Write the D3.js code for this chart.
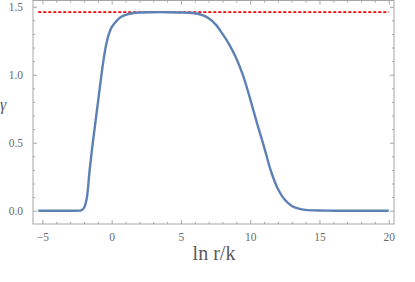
<!DOCTYPE html>
<html>
<head>
<meta charset="utf-8">
<script src="https://cdn.jsdelivr.net/npm/d3@7"></script>
<style>
  body { margin: 0; background: #fff; }
</style>
</head>
<body>
<div id="chart"></div>
<script>
// values
var lnrk = [-5.3, -3, -2.4, -2.2, -2.0, -1.8, -1.6, -1.4, -1.2, -1.0, -0.8, -0.6, -0.4, -0.2, 0,
            0.3, 0.6, 1.0, 1.5, 2, 3, 4, 5, 6, 6.5, 7, 7.5, 8, 8.5, 9, 9.5, 10, 10.5,
            11, 11.5, 12, 12.5, 13, 13.5, 14, 15, 16, 20];
var gamma = [0, 0, 0, 0.002, 0.02, 0.09, 0.29, 0.47, 0.63, 0.79, 0.95, 1.1, 1.22, 1.3, 1.35,
             1.39, 1.42, 1.44, 1.452, 1.458, 1.46, 1.46, 1.458, 1.452, 1.44, 1.415, 1.37, 1.3, 1.22, 1.12, 0.99, 0.82, 0.64,
             0.47, 0.29, 0.16, 0.08, 0.035, 0.015, 0.006, 0.001, 0, 0];
var refLevel = 1.46;
var refRange = [-5.3, 20];
var xMajor = [-5, 0, 5, 10, 15, 20];
var yMajor = [0, 0.5, 1.0, 1.5];

var W = 415, H = 282;
var margin = { top: 0.5, left: 33, right: 21, bottom: 58 };
var width = W - margin.left - margin.right,
    height = H - margin.top - margin.bottom;
var serif = "'Liberation Serif', 'Times New Roman', serif";

var svg = d3.select("#chart").append("svg")
    .attr("width", W).attr("height", H);
var g = svg.append("g")
    .attr("transform", "translate(" + margin.left + "," + margin.top + ")");

var x = d3.scaleLinear().domain([-5.68, 20.38]).range([0, width]);
var y = d3.scaleLinear().domain([-0.098, 1.546]).range([height, 0]);

var xMinor = d3.range(-5, 20.01, 1).filter(function(v) { return xMajor.indexOf(v) < 0; });
var yMinor = d3.range(-0.0, 1.55, 0.1).map(function(v) { return Math.round(v * 10) / 10; })
    .filter(function(v) { return yMajor.indexOf(v) < 0; });

var frameColor = "#a6a6a6", labelColor = "#6b6b6b";
var fmt = function(d) { return d < 0 ? "\u2212" + Math.abs(d) : d; };

function styleAxis(sel) {
    sel.attr("font-family", serif);
    sel.selectAll(".domain").remove();
    sel.selectAll("line").attr("stroke", frameColor);
    sel.selectAll("text").attr("fill", labelColor)
        .style("font-family", serif).style("font-size", "11.5px");
}

// minor ticks on all sides
g.append("g").attr("transform", "translate(0," + height + ")")
    .call(d3.axisBottom(x).tickValues(xMinor).tickSize(-2).tickFormat("")).call(styleAxis);
g.append("g")
    .call(d3.axisTop(x).tickValues(xMinor).tickSize(-2).tickFormat("")).call(styleAxis);
g.append("g")
    .call(d3.axisLeft(y).tickValues(yMinor).tickSize(-2).tickFormat("")).call(styleAxis);
g.append("g").attr("transform", "translate(" + width + ",0)")
    .call(d3.axisRight(y).tickValues(yMinor).tickSize(-2).tickFormat("")).call(styleAxis);

// major ticks
g.append("g").attr("transform", "translate(0," + height + ")")
    .call(d3.axisBottom(x).tickValues(xMajor).tickSize(-4).tickPadding(9).tickFormat(fmt)).call(styleAxis);
g.append("g")
    .call(d3.axisTop(x).tickValues(xMajor).tickSize(-4).tickFormat("")).call(styleAxis);
g.append("g")
    .call(d3.axisLeft(y).tickValues(yMajor).tickSize(-4).tickPadding(10).tickFormat(d3.format(".1f"))).call(styleAxis);
g.append("g").attr("transform", "translate(" + width + ",0)")
    .call(d3.axisRight(y).tickValues(yMajor).tickSize(-4).tickFormat("")).call(styleAxis);

// frame
g.append("rect")
    .attr("width", width).attr("height", height)
    .attr("fill", "none").attr("stroke", frameColor).attr("stroke-width", 1);

// reference level
g.append("line")
    .attr("x1", x(refRange[0])).attr("x2", x(refRange[1]))
    .attr("y1", y(refLevel)).attr("y2", y(refLevel))
    .attr("stroke", "#ff0000").attr("stroke-width", 1.8)
    .attr("stroke-dasharray", "3,2");

// curve
var pts = lnrk.map(function(v, i) { return [v, gamma[i]]; });
var line = d3.line()
    .x(function(d) { return x(d[0]); })
    .y(function(d) { return y(d[1]); })
    .curve(d3.curveCatmullRom.alpha(0.5));
g.append("path").datum(pts)
    .attr("d", line)
    .attr("fill", "none")
    .attr("stroke", "#5e81b5")
    .attr("stroke-width", 2.4);

// axis labels
svg.append("text")
    .attr("x", 214).attr("y", 260)
    .attr("text-anchor", "middle")
    .attr("fill", "#5a5a5a")
    .style("font-family", serif)
    .style("font-size", "20px")
    .text("ln r/k");
svg.append("text")
    .attr("x", 0).attr("y", 110)
    .attr("fill", "#5a5a5a")
    .style("font-family", serif)
    .style("font-size", "16px")
    .style("font-style", "italic")
    .text("\u03b3");
</script>
</body>
</html>
